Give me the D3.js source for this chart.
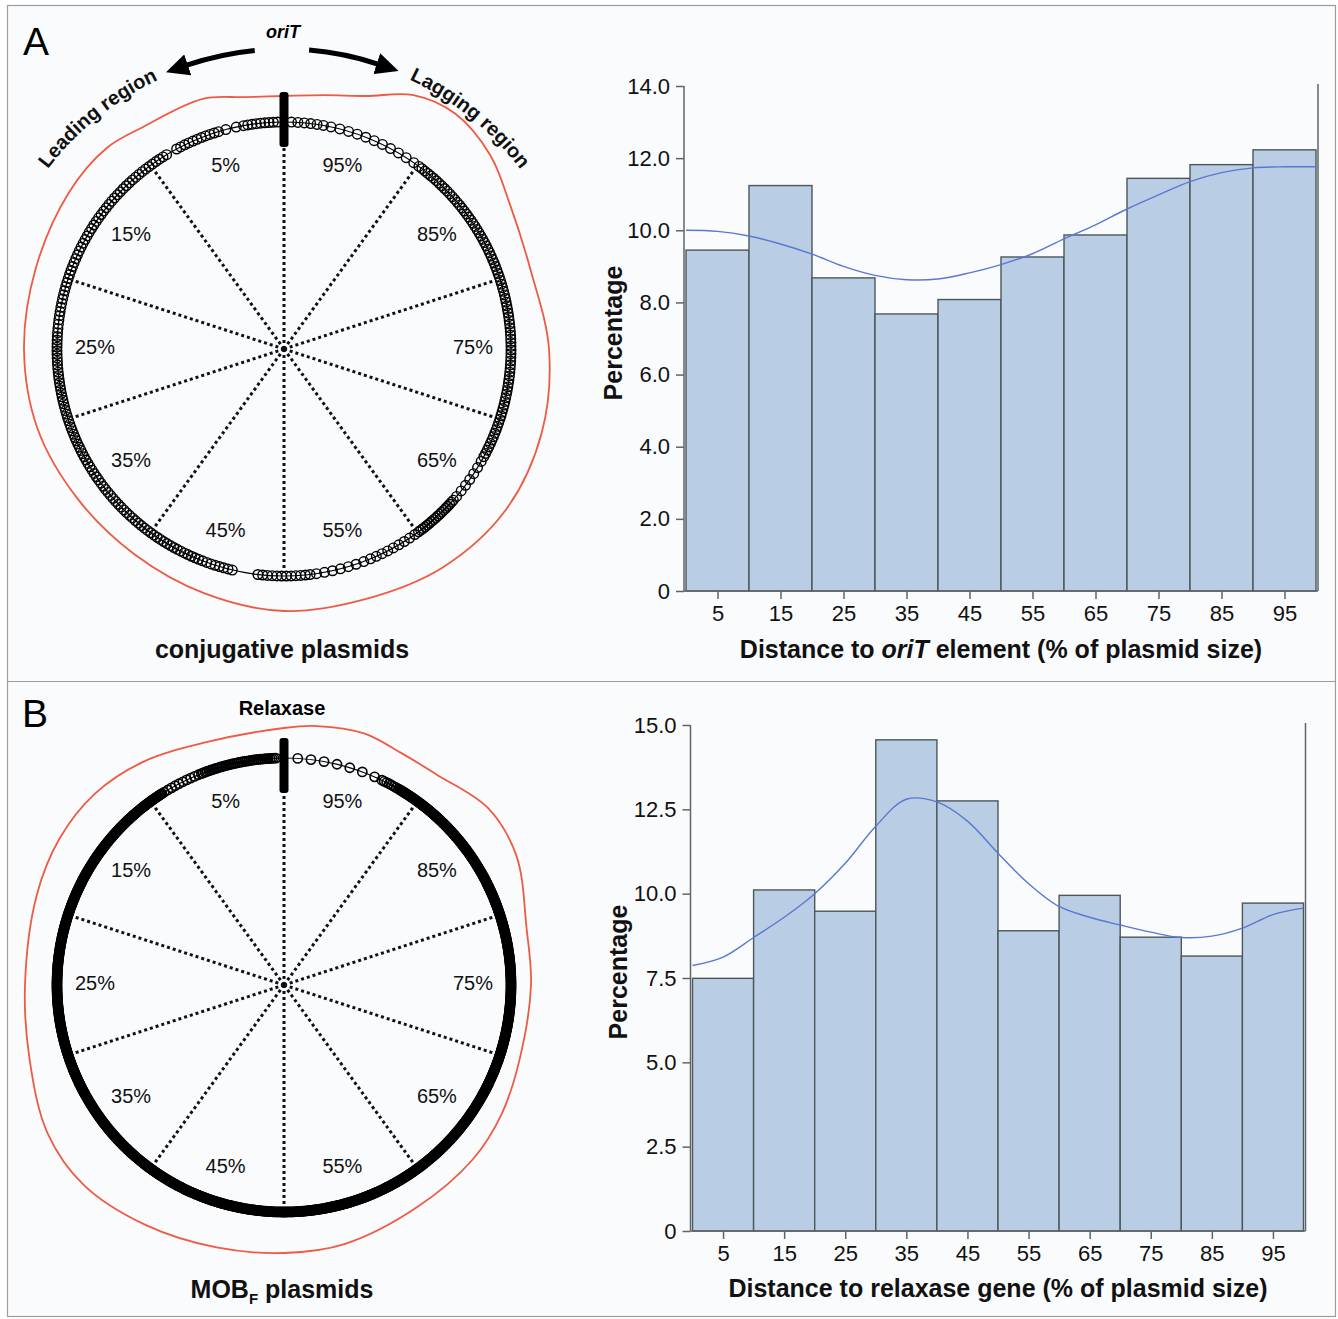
<!DOCTYPE html>
<html>
<head>
<meta charset="utf-8">
<script src="https://cdn.jsdelivr.net/npm/d3@7"></script>
<style>
body { margin: 0; background: #fff; }
svg { display: block; }
text { font-family: "Liberation Sans", Arial, sans-serif; }
</style>
</head>
<body>
<div id="fig"></div>
<script>
// histogram bins (centre of each 10% bin) and bar heights, in %
var bins = [5, 15, 25, 35, 45, 55, 65, 75, 85, 95]
var pctOriT = [9.45, 11.24, 8.68, 7.68, 8.08, 9.26, 9.87, 11.44, 11.82, 12.23]
var pctRelax = [7.49, 10.11, 9.48, 14.56, 12.75, 8.90, 9.95, 8.71, 8.15, 9.72]

// smoothed density line
var kdeGrid = [0, 5, 10, 15, 20, 25, 30, 35, 40, 45, 50, 55, 60, 65, 70, 75, 80, 85, 90, 95, 100]
var kdeOriT = [10.0, 9.97, 9.84, 9.62, 9.34, 9.0, 8.75, 8.63, 8.65, 8.82, 9.05, 9.35, 9.76, 10.15, 10.59, 10.98, 11.35, 11.6, 11.73, 11.76, 11.76]
var kdeRelax = [7.87, 8.12, 8.7, 9.3, 10.0, 10.9, 12.0, 12.8, 12.72, 12.15, 11.2, 10.3, 9.62, 9.3, 9.07, 8.86, 8.7, 8.74, 8.98, 9.38, 9.57]

var ticksOriT = [0, 2, 4, 6, 8, 10, 12, 14]
var ticksRelax = [0, 2.5, 5, 7.5, 10, 12.5, 15]

// circle maps: spokes every 10%, labels in the middle of each sector
var spokePct = [0, 10, 20, 30, 40, 50, 60, 70, 80, 90]
var sectorPct = [5, 15, 25, 35, 45, 55, 65, 75, 85, 95]

// plasmid positions on the ring as runs: [from %, to %, number of plasmids]
var ringOriT = [[0.3, 3, 9], [3, 4.5, 2], [4.5, 8, 11], [8.5, 24, 52], [24, 33, 36], [33, 44, 40],
  [44, 46.5, 8], [48, 52, 12], [52, 56, 7], [56, 60, 9], [60, 63.5, 18], [63.5, 67, 7],
  [67, 80, 50], [80, 90, 38], [90, 97, 11], [97, 99.7, 6]]
var ringRelax = [[0.5, 6, 40], [6, 9, 10], [9, 91.5, 1000], [91.5, 93, 8], [93, 99.5, 7]]

// outer (red) density outline: [position %, density index]
var densOriT = [[0, 26], [2.5, 28], [5, 36], [9, 36], [11.5, 41], [15, 39], [20, 34], [25, 33], [30, 32],
  [35, 28], [40, 27], [45, 30], [50, 35], [55, 36], [60, 43], [65, 47], [70, 44], [75, 38], [80, 32],
  [84, 41], [87, 56], [90, 64], [92.5, 58], [95, 39], [97.5, 30]]
var densRelax = [[0, 30], [5, 28], [9, 37], [12.4, 42], [15.8, 41], [19.5, 36], [25, 32], [29.5, 38],
  [33.9, 52], [37.5, 56], [41.7, 50], [46, 44], [50, 41], [53.7, 39], [58.6, 32], [63.1, 30], [66.5, 26],
  [70.2, 20], [75, 20], [78.6, 22], [83.1, 39], [86.4, 43], [90, 33], [92.6, 33], [95.1, 37], [98, 34]]

var svg = d3.select("#fig").append("svg")
    .attr("width", 1338)
    .attr("height", 1319)

svg.append("rect")
    .attr("x", 7.5).attr("y", 5.5)
    .attr("width", 1328).attr("height", 1311)
    .attr("fill", "#fafbfd")
    .attr("stroke", "#9c9c9c")
    .attr("stroke-width", 1.2)

svg.append("line")
    .attr("x1", 7.5).attr("x2", 1335.5)
    .attr("y1", 681.5).attr("y2", 681.5)
    .attr("stroke", "#9c9c9c")
    .attr("stroke-width", 1.2)

svg.append("text").attr("x", 23).attr("y", 55).text("A")
    .style("font-size", "39px")
svg.append("text").attr("x", 22).attr("y", 727).text("B")
    .style("font-size", "39px")

var defs = svg.append("defs")
defs.append("marker")
    .attr("id", "head")
    .attr("markerUnits", "userSpaceOnUse")
    .attr("viewBox", "0 -11 23 22")
    .attr("refX", 1).attr("refY", 0)
    .attr("markerWidth", 23).attr("markerHeight", 22)
    .attr("orient", "auto")
  .append("path")
    .attr("d", "M0,-11L23,0L0,11Z")
    .attr("fill", "#000")

function ring(o) {
  var g = svg.append("g").attr("transform", "translate(" + o.cx + "," + o.cy + ")")
  var ang = d3.scaleLinear([0, 100], [0, -2 * Math.PI])
  var px = function(p, r) { return r * Math.sin(ang(p)) }
  var py = function(p, r) { return -r * Math.cos(ang(p)) }
  var rd = d3.scaleLinear([0, 100], [o.r, o.r + 100])

  g.append("path")
      .attr("d", d3.lineRadial()
          .angle(function(d) { return ang(d[0]) })
          .radius(function(d) { return rd(d[1]) })
          .curve(d3.curveCatmullRomClosed.alpha(0.5))(o.dens))
      .attr("fill", "none")
      .attr("stroke", "#ef5a44")
      .attr("stroke-width", 1.8)

  g.selectAll("line.spoke").data(spokePct).join("line")
      .attr("class", "spoke")
      .attr("x1", 0).attr("y1", 0)
      .attr("x2", function(d) { return px(d, o.r - 5) })
      .attr("y2", function(d) { return py(d, o.r - 5) })
      .attr("stroke", "#111")
      .attr("stroke-width", 3)
      .attr("stroke-dasharray", "3 3")

  g.selectAll("text.sector").data(sectorPct).join("text")
      .attr("class", "sector")
      .attr("x", function(d) { return px(d, 189) })
      .attr("y", function(d) { return py(d, 192) - 2 })
      .attr("dy", "0.36em")
      .attr("text-anchor", "middle")
      .style("font-size", "20px")
      .attr("fill", "#111")
      .text(function(d) { return d + "%" })

  g.append("circle")
      .attr("r", o.r)
      .attr("fill", "none")
      .attr("stroke", "#000")
      .attr("stroke-width", 1.2)

  var pts = o.runs.flatMap(function(run) {
    return d3.range(run[2]).map(function(i) { return run[0] + (run[1] - run[0]) * (i + 0.5) / run[2] })
  })
  g.selectAll("circle.pt").data(pts).join("circle")
      .attr("class", "pt")
      .attr("cx", function(d) { return px(d, o.r) })
      .attr("cy", function(d) { return py(d, o.r) })
      .attr("r", o.pr)
      .attr("fill", "none")
      .attr("stroke", "#000")
      .attr("stroke-width", o.sw)

  g.append("rect")
      .attr("x", -4.5).attr("width", 9)
      .attr("y", -o.barTop).attr("height", o.barTop - o.barBot)
      .attr("rx", 3)
      .attr("fill", "#000")

  svg.append("text")
      .attr("x", o.cx - 2).attr("y", o.capY)
      .attr("text-anchor", "middle")
      .style("font-size", "25px")
      .style("font-weight", "bold")
      .attr("fill", "#111")
      .call(o.caption)
  return g
}

var gA = ring({cx: 284, cy: 349, r: 227, runs: ringOriT, dens: densOriT, sw: 1.4, pr: 4.8,
  barTop: 257, barBot: 202, capY: 658,
  caption: function(t) { t.text("conjugative plasmids") }})

ring({cx: 284, cy: 985, r: 227, runs: ringRelax, dens: densRelax, sw: 1.6, pr: 4.6,
  barTop: 247, barBot: 192, capY: 1298,
  caption: function(t) {
    t.append("tspan").text("MOB")
    t.append("tspan").text("F").style("font-size", "15px").attr("dy", 6)
    t.append("tspan").text(" plasmids").attr("dy", -6)
  }})

// oriT arrows and region names around panel A
function arcPath(r, t0, t1) {
  var p = d3.path()
  p.moveTo(r * Math.sin(t0), -r * Math.cos(t0))
  p.arc(0, 0, r, t0 - Math.PI / 2, t1 - Math.PI / 2, t1 < t0)
  return p.toString()
}
var deg = Math.PI / 180
gA.append("path").attr("d", arcPath(300, -5.6 * deg, -18.9 * deg))
    .attr("fill", "none").attr("stroke", "#000").attr("stroke-width", 5)
    .attr("marker-end", "url(#head)")
gA.append("path").attr("d", arcPath(300, 4.8 * deg, 18.2 * deg))
    .attr("fill", "none").attr("stroke", "#000").attr("stroke-width", 5)
    .attr("marker-end", "url(#head)")

gA.append("path").attr("id", "labelArc")
    .attr("d", "M0,-297A297,297 0 1 1 0,297A297,297 0 1 1 0,-297")
    .attr("fill", "none")

var regionNames = [["Leading region", 89.2], ["Lagging region", 10.8]]
gA.selectAll("text.region").data(regionNames).join("text")
    .attr("class", "region")
    .style("font-size", "20px")
    .style("font-weight", "bold")
    .attr("fill", "#111")
  .append("textPath")
    .attr("href", "#labelArc")
    .attr("startOffset", function(d) { return d[1] + "%" })
    .attr("text-anchor", "middle")
    .text(function(d) { return d[0] })

svg.append("text").attr("x", 283).attr("y", 38)
    .attr("text-anchor", "middle")
    .style("font-size", "18px").style("font-weight", "bold").style("font-style", "italic")
    .text("oriT")
svg.append("text").attr("x", 282).attr("y", 715)
    .attr("text-anchor", "middle")
    .style("font-size", "20px").style("font-weight", "bold")
    .text("Relaxase")

// histograms
function fmt(d) { return d === 0 ? "0" : d3.format(".1f")(d) }

function hist(o) {
  var x = d3.scaleLinear([0, 100], [o.x0, o.x1])
  var y = d3.scaleLinear([0, o.ymax], [o.yb, o.yt])
  var g = svg.append("g")

  g.selectAll("rect").data(o.vals).join("rect")
      .attr("x", function(d, i) { return x(bins[i] - 5) })
      .attr("width", function(d, i) { return x(bins[i] + 5) - x(bins[i] - 5) })
      .attr("y", function(d) { return y(d) })
      .attr("height", function(d) { return y(0) - y(d) })
      .attr("fill", "#b9cde5")
      .attr("stroke", "#4b5759")
      .attr("stroke-width", 1.4)

  g.append("path")
      .datum(d3.zip(kdeGrid, o.kde))
      .attr("d", d3.line()
          .x(function(d) { return x(d[0]) })
          .y(function(d) { return y(d[1]) })
          .curve(d3.curveCatmullRom.alpha(0.5)))
      .attr("fill", "none")
      .attr("stroke", "#5a78d2")
      .attr("stroke-width", 1.4)

  var ya = g.append("g")
      .attr("transform", "translate(" + (o.x0 - 2) + ",0)")
      .call(d3.axisLeft(y).tickValues(o.ticks).tickFormat(fmt).tickSize(8).tickPadding(6))
  var xa = g.append("g")
      .attr("transform", "translate(0," + o.yb + ")")
      .call(d3.axisBottom(x).tickValues(bins).tickFormat(d3.format("d")).tickSize(8).tickPadding(6))
  ;[ya, xa].forEach(function(a) {
    a.select(".domain").remove()
    a.selectAll("line").attr("stroke", "#5f6566").attr("stroke-width", 1.5)
    a.selectAll("text").attr("fill", "#111").style("font-size", "22px")
        .style("font-family", '"Liberation Sans", Arial, sans-serif')
  })

  var spine = [[o.x0 - 2, o.yt, o.x0 - 2, o.yb], [o.x0 - 2, o.yb, o.x1 + 2, o.yb], [o.x1 + 2, o.yt - 2, o.x1 + 2, o.yb]]
  g.selectAll("line.spine").data(spine).join("line")
      .attr("class", "spine")
      .attr("x1", function(d) { return d[0] }).attr("y1", function(d) { return d[1] })
      .attr("x2", function(d) { return d[2] }).attr("y2", function(d) { return d[3] })
      .attr("stroke", "#5f6566")
      .attr("stroke-width", 1.5)

  svg.append("text")
      .attr("transform", "translate(" + o.ylabX + "," + o.ylabY + ") rotate(-90)")
      .attr("text-anchor", "middle")
      .style("font-size", "25px").style("font-weight", "bold")
      .attr("fill", "#111")
      .text("Percentage")

  svg.append("text")
      .attr("x", (o.x0 + o.x1) / 2).attr("y", o.xlabY)
      .attr("text-anchor", "middle")
      .style("font-size", "25px").style("font-weight", "bold")
      .attr("fill", "#111")
      .call(o.xlab)
}

hist({x0: 686, x1: 1316, yb: 591, yt: 86, ymax: 14, vals: pctOriT, kde: kdeOriT, ticks: ticksOriT,
  ylabX: 622, ylabY: 333, xlabY: 658,
  xlab: function(t) {
    t.append("tspan").text("Distance to ")
    t.append("tspan").text("oriT").style("font-style", "italic")
    t.append("tspan").text(" element (% of plasmid size)")
  }})

hist({x0: 692.5, x1: 1303.5, yb: 1231, yt: 725, ymax: 15, vals: pctRelax, kde: kdeRelax, ticks: ticksRelax,
  ylabX: 627, ylabY: 972, xlabY: 1297,
  xlab: function(t) { t.text("Distance to relaxase gene (% of plasmid size)") }})
</script>
</body>
</html>
